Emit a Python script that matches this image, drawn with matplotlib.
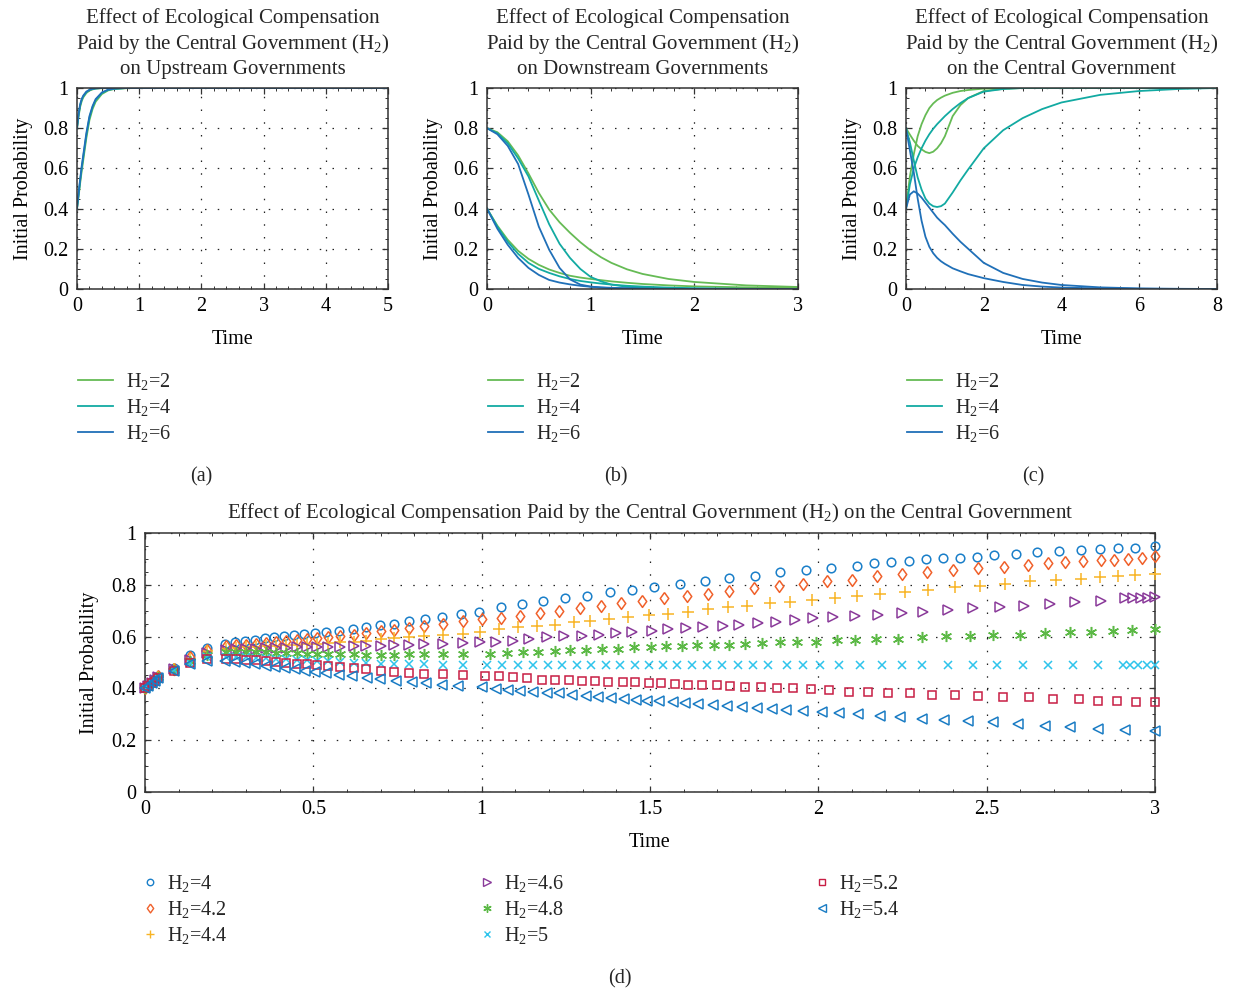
import matplotlib
matplotlib.use('Agg')
import matplotlib.pyplot as plt
from matplotlib.lines import Line2D
from matplotlib.ticker import MultipleLocator, AutoMinorLocator, FuncFormatter

plt.rcParams['font.family'] = ['Liberation Serif', 'DejaVu Serif']
plt.rcParams['mathtext.fontset'] = 'custom'
plt.rcParams['mathtext.rm'] = 'Liberation Serif'
plt.rcParams['mathtext.it'] = 'Liberation Serif:italic'
plt.rcParams['font.size'] = 14.5
plt.rcParams['text.color'] = '#262626'

# ---------------- panels (a)-(c): H2 = 2, 4, 6, two starting points each
H2_TOP = [2, 4, 6]
LINE_COLORS = ['#66bb55', '#12aaa2', '#2070b8']

T_A = [0, 0.025, 0.05, 0.075, 0.1, 0.15, 0.2, 0.25, 0.3, 0.4, 0.5, 0.6, 0.8, 1.0, 5.0]
A_LOW = {
    2: [0.4, 0.46, 0.525, 0.585, 0.64, 0.75, 0.84, 0.895, 0.932, 0.97, 0.988, 0.995, 0.999, 1, 1],
    4: [0.4, 0.468, 0.537, 0.6, 0.655, 0.765, 0.852, 0.905, 0.94, 0.975, 0.99, 0.996, 1, 1, 1],
    6: [0.4, 0.475, 0.545, 0.61, 0.665, 0.775, 0.86, 0.91, 0.945, 0.978, 0.992, 0.997, 1, 1, 1],
}
A_HIGH = {
    2: [0.8, 0.858, 0.905, 0.934, 0.953, 0.975, 0.987, 0.993, 0.997, 0.999, 1, 1, 1, 1, 1],
    4: [0.8, 0.865, 0.913, 0.941, 0.958, 0.979, 0.99, 0.995, 0.998, 1, 1, 1, 1, 1, 1],
    6: [0.8, 0.87, 0.918, 0.945, 0.962, 0.982, 0.991, 0.996, 0.998, 1, 1, 1, 1, 1, 1],
}

T_B = [0, 0.1, 0.2, 0.3, 0.4, 0.5, 0.6, 0.7, 0.8, 0.9, 1.0, 1.1, 1.2, 1.35, 1.5, 1.75, 2.0, 2.5, 3.0]
B_LOW = {
    2: [0.4, 0.315, 0.245, 0.19, 0.15, 0.12, 0.097, 0.08, 0.066, 0.057, 0.05, 0.044, 0.038, 0.031, 0.025, 0.018, 0.013, 0.008, 0.005],
    4: [0.4, 0.31, 0.235, 0.175, 0.13, 0.1, 0.08, 0.063, 0.05, 0.04, 0.033, 0.027, 0.022, 0.016, 0.012, 0.007, 0.004, 0.001, 0],
    6: [0.4, 0.3, 0.22, 0.155, 0.105, 0.07, 0.045, 0.032, 0.023, 0.016, 0.011, 0.008, 0.006, 0.004, 0.002, 0.001, 0, 0, 0],
}
B_HIGH = {
    2: [0.8, 0.78, 0.735, 0.665, 0.575, 0.478, 0.395, 0.332, 0.28, 0.233, 0.192, 0.158, 0.13, 0.098, 0.075, 0.05, 0.035, 0.018, 0.01],
    4: [0.8, 0.775, 0.725, 0.65, 0.56, 0.44, 0.322, 0.225, 0.155, 0.1, 0.06, 0.038, 0.022, 0.011, 0.006, 0.003, 0.001, 0, 0],
    6: [0.8, 0.77, 0.712, 0.622, 0.47, 0.31, 0.195, 0.105, 0.048, 0.022, 0.012, 0.007, 0.004, 0.002, 0.001, 0, 0, 0, 0],
}

T_C = [0, 0.1, 0.2, 0.3, 0.4, 0.5, 0.6, 0.7, 0.8, 0.9, 1.0, 1.2, 1.4, 1.6, 2.0, 2.5, 3.0, 3.5, 4.0, 5.0, 6.0, 7.0, 8.0]
C_LOW = {
    2: [0.4, 0.56, 0.67, 0.76, 0.82, 0.865, 0.9, 0.923, 0.94, 0.952, 0.962, 0.976, 0.985, 0.99, 0.997, 1, 1, 1, 1, 1, 1, 1, 1],
    4: [0.4, 0.52, 0.6, 0.655, 0.7, 0.738, 0.77, 0.797, 0.82, 0.84, 0.86, 0.895, 0.925, 0.95, 0.982, 0.995, 1, 1, 1, 1, 1, 1, 1],
    6: [0.4, 0.47, 0.486, 0.475, 0.455, 0.43, 0.405, 0.38, 0.355, 0.336, 0.318, 0.275, 0.235, 0.2, 0.13, 0.08, 0.05, 0.032, 0.02, 0.008, 0.003, 0.001, 0],
}
C_HIGH = {
    2: [0.8, 0.768, 0.738, 0.712, 0.695, 0.682, 0.676, 0.683, 0.70, 0.725, 0.76, 0.86, 0.915, 0.95, 0.985, 0.996, 1, 1, 1, 1, 1, 1, 1],
    4: [0.8, 0.73, 0.64, 0.555, 0.495, 0.45, 0.425, 0.412, 0.408, 0.412, 0.425, 0.48, 0.54, 0.595, 0.7, 0.79, 0.85, 0.895, 0.928, 0.966, 0.985, 0.995, 1],
    6: [0.8, 0.69, 0.58, 0.45, 0.34, 0.26, 0.21, 0.178, 0.155, 0.138, 0.125, 0.103, 0.088, 0.074, 0.054, 0.035, 0.02, 0.012, 0.007, 0.003, 0.001, 0, 0],
}

# ---------------- panel (d): H2 = 4 ... 5.4
T_EARLY = [0, 0.01, 0.02, 0.03, 0.04, 0.085, 0.135, 0.185]
T_MID = [0.24, 0.27, 0.30, 0.33, 0.36, 0.39, 0.42, 0.45, 0.48, 0.51, 0.545, 0.58, 0.62, 0.655, 0.70, 0.74, 0.785, 0.83, 0.885, 0.945]

T_40 = T_EARLY + [0.238, 0.266, 0.297, 0.327, 0.356, 0.384, 0.413, 0.443, 0.472, 0.505, 0.539, 0.577, 0.617,
                  0.656, 0.698, 0.74, 0.785, 0.832, 0.883, 0.939, 0.993, 1.057, 1.119, 1.181, 1.247, 1.312,
                  1.381, 1.448, 1.512, 1.589, 1.663, 1.735, 1.813, 1.886, 1.963, 2.037, 2.114, 2.165, 2.216,
                  2.268, 2.320, 2.369, 2.421, 2.470, 2.521, 2.587, 2.650, 2.714, 2.781, 2.836, 2.891, 2.940, 3.0]
Y_40 = [0.40, 0.412, 0.424, 0.436, 0.447, 0.478, 0.528, 0.556,
        0.573, 0.578, 0.582, 0.588, 0.595, 0.599, 0.601, 0.605, 0.610, 0.614, 0.618, 0.623, 0.630, 0.637,
        0.644, 0.650, 0.659, 0.668, 0.675, 0.687, 0.695,
        0.713, 0.725, 0.736, 0.748, 0.758, 0.771, 0.781, 0.790, 0.803, 0.813, 0.825, 0.835, 0.848, 0.858, 0.864,
        0.874, 0.883, 0.889, 0.893, 0.898, 0.903, 0.905, 0.909, 0.915, 0.920, 0.927, 0.932, 0.934, 0.937,
        0.942, 0.943, 0.948]

T_42 = T_EARLY + T_MID + [1.0, 1.057, 1.114, 1.173, 1.230, 1.292, 1.353, 1.413, 1.475, 1.543, 1.609, 1.671,
                          1.735, 1.809, 1.884, 1.953, 2.025, 2.101, 2.173, 2.250, 2.323, 2.401, 2.475, 2.552,
                          2.623, 2.681, 2.732, 2.787, 2.839, 2.878, 2.920, 2.960, 3.0]
Y_42 = [0.40, 0.412, 0.424, 0.435, 0.446, 0.476, 0.52, 0.55,
        0.562, 0.566, 0.569, 0.572, 0.575, 0.578, 0.582, 0.585, 0.589, 0.593, 0.597, 0.602, 0.608, 0.614,
        0.62, 0.627, 0.634, 0.641, 0.65, 0.659,
        0.668, 0.672, 0.681, 0.690, 0.697, 0.709, 0.720, 0.730, 0.739, 0.748, 0.756, 0.764, 0.775, 0.786,
        0.797, 0.804, 0.814, 0.820, 0.833, 0.840, 0.851, 0.856, 0.864, 0.870, 0.875, 0.883, 0.889, 0.892,
        0.894, 0.897, 0.899, 0.903, 0.910]

T_44 = T_EARLY + T_MID + [0.995, 1.052, 1.107, 1.163, 1.218, 1.275, 1.322, 1.379, 1.436, 1.498, 1.554, 1.614,
                          1.671, 1.731, 1.787, 1.855, 1.916, 1.980, 2.049, 2.114, 2.183, 2.257, 2.327, 2.406,
                          2.480, 2.554, 2.629, 2.706, 2.779, 2.836, 2.891, 2.940, 3.0]
Y_44 = [0.40, 0.411, 0.423, 0.434, 0.445, 0.475, 0.515, 0.545,
        0.553, 0.556, 0.558, 0.560, 0.562, 0.564, 0.566, 0.568, 0.570, 0.573, 0.575, 0.578, 0.581, 0.584,
        0.590, 0.596, 0.600, 0.603, 0.607, 0.611,
        0.617, 0.630, 0.636, 0.642, 0.646, 0.657, 0.661, 0.668, 0.674, 0.683, 0.687, 0.696, 0.706, 0.713,
        0.720, 0.729, 0.733, 0.740, 0.750, 0.758, 0.764, 0.773, 0.781, 0.790, 0.797, 0.804, 0.814, 0.818,
        0.823, 0.832, 0.835, 0.837, 0.842]

T_46 = T_EARLY + T_MID + [0.995, 1.042, 1.094, 1.141, 1.193, 1.245, 1.297, 1.349, 1.399, 1.448, 1.505, 1.554,
                          1.607, 1.658, 1.716, 1.765, 1.822, 1.874, 1.930, 1.985, 2.045, 2.109, 2.178, 2.248,
                          2.312, 2.386, 2.460, 2.540, 2.611, 2.688, 2.762, 2.839, 2.911, 2.936, 2.957, 2.980, 3.0]
Y_46 = [0.40, 0.411, 0.422, 0.433, 0.444, 0.473, 0.51, 0.535,
        0.548, 0.551, 0.553, 0.554, 0.555, 0.556, 0.557, 0.558, 0.559, 0.559, 0.560, 0.561, 0.562, 0.563,
        0.564, 0.566, 0.568, 0.570, 0.572, 0.576,
        0.580, 0.581, 0.584, 0.590, 0.597, 0.601, 0.603, 0.607, 0.612, 0.617, 0.623, 0.629, 0.635, 0.638,
        0.642, 0.646, 0.652, 0.658, 0.665, 0.670, 0.674, 0.681, 0.685, 0.691, 0.696, 0.704, 0.709, 0.716,
        0.720, 0.726, 0.732, 0.739, 0.748, 0.748, 0.748, 0.749, 0.752]

T_48 = T_EARLY + T_MID + [1.025, 1.074, 1.122, 1.168, 1.218, 1.262, 1.310, 1.356, 1.404, 1.452, 1.502, 1.547,
                          1.594, 1.641, 1.691, 1.735, 1.782, 1.834, 1.886, 1.937, 1.994, 2.054, 2.109, 2.171,
                          2.238, 2.307, 2.379, 2.450, 2.520, 2.599, 2.673, 2.749, 2.810, 2.874, 2.933, 3.0]
Y_48 = [0.40, 0.411, 0.422, 0.432, 0.443, 0.472, 0.505, 0.53,
        0.540, 0.541, 0.541, 0.540, 0.539, 0.537, 0.536, 0.535, 0.534, 0.533, 0.532, 0.531, 0.531, 0.530,
        0.530, 0.530, 0.531, 0.531, 0.532, 0.532,
        0.533, 0.537, 0.539, 0.541, 0.545, 0.547, 0.548, 0.551, 0.553, 0.558, 0.560, 0.563, 0.565, 0.567,
        0.568, 0.569, 0.570, 0.574, 0.578, 0.580, 0.581, 0.585, 0.586, 0.590, 0.591, 0.597, 0.601, 0.603,
        0.606, 0.607, 0.612, 0.616, 0.618, 0.623, 0.624, 0.629]

T_50 = T_EARLY + T_MID + [1.015, 1.061, 1.109, 1.153, 1.196, 1.239, 1.282, 1.325, 1.368, 1.411, 1.454, 1.497,
                          1.539, 1.581, 1.626, 1.668, 1.715, 1.760, 1.806, 1.851, 1.906, 1.955, 2.005, 2.060,
                          2.124, 2.188, 2.248, 2.307, 2.384, 2.458, 2.532, 2.609, 2.681, 2.755, 2.831, 2.904,
                          2.927, 2.950, 2.975, 3.0]
Y_50 = [0.40, 0.41, 0.421, 0.431, 0.442, 0.47, 0.50, 0.52,
        0.522, 0.522, 0.521, 0.519, 0.517, 0.515, 0.513, 0.511, 0.509, 0.507, 0.504, 0.502, 0.500, 0.498,
        0.496, 0.495, 0.494, 0.493, 0.492, 0.492,
        0.492, 0.492, 0.492, 0.492, 0.492, 0.492, 0.492, 0.492, 0.492, 0.492, 0.492, 0.492, 0.492, 0.492,
        0.492, 0.492, 0.492, 0.492, 0.492, 0.492, 0.492, 0.492, 0.492, 0.492, 0.492, 0.492, 0.492, 0.492,
        0.492, 0.492, 0.492, 0.492, 0.492, 0.492, 0.492, 0.492, 0.492, 0.492, 0.492, 0.492]

T_52 = T_EARLY + T_MID + [1.010, 1.052, 1.094, 1.134, 1.178, 1.218, 1.260, 1.297, 1.337, 1.374, 1.419, 1.455,
                          1.498, 1.534, 1.574, 1.614, 1.653, 1.698, 1.739, 1.782, 1.831, 1.876, 1.925, 1.977,
                          2.031, 2.090, 2.149, 2.206, 2.273, 2.338, 2.406, 2.475, 2.548, 2.625, 2.698, 2.775,
                          2.832, 2.886, 2.944, 3.0]
Y_52 = [0.40, 0.41, 0.42, 0.43, 0.44, 0.468, 0.497, 0.512,
        0.514, 0.513, 0.511, 0.508, 0.505, 0.502, 0.499, 0.496, 0.493, 0.489, 0.486, 0.482, 0.478, 0.474,
        0.466, 0.463, 0.460, 0.457, 0.454, 0.451,
        0.449, 0.447, 0.443, 0.439, 0.434, 0.433, 0.432, 0.428, 0.427, 0.426, 0.424, 0.423, 0.420, 0.419,
        0.417, 0.414, 0.413, 0.412, 0.408, 0.407, 0.405, 0.401, 0.400, 0.396, 0.394, 0.388, 0.387, 0.383,
        0.382, 0.376, 0.375, 0.371, 0.366, 0.365, 0.359, 0.358, 0.353, 0.352, 0.348, 0.347]

T_54 = T_EARLY + [0.238, 0.267, 0.297, 0.327, 0.359, 0.386, 0.416, 0.446, 0.475, 0.505, 0.539, 0.577, 0.614,
                  0.658, 0.698, 0.747, 0.792, 0.836, 0.881, 0.931, 1.0, 1.042, 1.079, 1.114, 1.151, 1.193,
                  1.230, 1.267, 1.310, 1.346, 1.383, 1.423, 1.458, 1.490, 1.526, 1.567, 1.604, 1.643, 1.686,
                  1.730, 1.772, 1.817, 1.861, 1.904, 1.955, 2.010, 2.060, 2.119, 2.183, 2.243, 2.307, 2.373,
                  2.446, 2.520, 2.594, 2.673, 2.747, 2.831, 2.911, 3.0]
Y_54 = [0.40, 0.41, 0.42, 0.43, 0.44, 0.466, 0.495, 0.505,
        0.507, 0.503, 0.498, 0.493, 0.488, 0.483, 0.478, 0.473, 0.468, 0.463, 0.458, 0.453, 0.447, 0.441,
        0.436, 0.430, 0.425, 0.420, 0.415, 0.410,
        0.404, 0.398, 0.393, 0.390, 0.386, 0.384, 0.381, 0.375, 0.371, 0.366, 0.364, 0.359, 0.356, 0.353,
        0.350, 0.347, 0.343, 0.340, 0.335, 0.332, 0.329, 0.326, 0.320, 0.315, 0.311, 0.309, 0.305, 0.300,
        0.293, 0.289, 0.283, 0.279, 0.274, 0.270, 0.262, 0.256, 0.251, 0.245, 0.239, 0.234]

# MATLAB-style diamond (wider than matplotlib's thin 'd')
DIAMOND = [(0, 1), (0.72, 0), (0, -1), (-0.72, 0), (0, 1)]

D_SERIES = [
    (T_40, Y_40, '4', 'o', '#1a7fc9', 6.2),
    (T_42, Y_42, '4.2', DIAMOND, '#f0602a', 8.5),
    (T_44, Y_44, '4.4', '+', '#f8b425', 8.0),
    (T_46, Y_46, '4.6', '>', '#8a3a9a', 7.0),
    (T_48, Y_48, '4.8', (6, 2, 0), '#5cb946', 8.0),
    (T_50, Y_50, '5', 'x', '#2ec4ec', 6.0),
    (T_52, Y_52, '5.2', 's', '#c81e44', 5.5),
    (T_54, Y_54, '5.4', '<', '#1a7cc4', 7.0),
]

W, H = 1238, 993
fig = plt.figure(figsize=(W / 100, H / 100), dpi=100)


def fx(px):
    return px / W


def fy(py):
    return 1 - py / H


def style_axes(ax, xmax, xstep, ylab_x, xlab_y):
    ax.set_xlim(0, xmax)
    ax.set_ylim(0, 1)
    ax.xaxis.set_major_locator(MultipleLocator(xstep))
    ax.yaxis.set_major_locator(MultipleLocator(0.2))
    ax.xaxis.set_minor_locator(AutoMinorLocator())
    ax.yaxis.set_minor_locator(AutoMinorLocator())
    fmt = FuncFormatter(lambda v, p: f'{v:g}')
    ax.xaxis.set_major_formatter(fmt)
    ax.yaxis.set_major_formatter(fmt)
    ax.tick_params(which='both', direction='in', top=True, right=True, color='#333333')
    ax.tick_params(which='major', length=4, width=0.9, pad=6, labelsize=14.5)
    ax.tick_params(which='minor', length=2, width=0.7)
    for s in ax.spines.values():
        s.set_color('#333333')
        s.set_linewidth(1.1)
    ax.grid(True, which='major', color='#222222', linestyle=(0, (1.2, 9)), linewidth=0.9)
    ax.set_axisbelow(True)
    ax.set_ylabel('Initial Probability')
    ax.set_xlabel('Time')
    ax.yaxis.set_label_coords(ylab_x, 0.5)
    ax.xaxis.set_label_coords(0.5, xlab_y)


TOP_TITLES = [
    'Effect of Ecological Compensation\nPaid by the Central Government (H$_2$)\non Upstream Governments',
    'Effect of Ecological Compensation\nPaid by the Central Government (H$_2$)\non Downstream Governments',
    'Effect of Ecological Compensation\nPaid by the Central Government (H$_2$)\non the Central Government',
]
TOP = [
    (77, T_A, A_LOW, A_HIGH, 5, 1, '(a)', 201),
    (487, T_B, B_LOW, B_HIGH, 3, 1, '(b)', 616),
    (906, T_C, C_LOW, C_HIGH, 8, 2, '(c)', 1033),
]

for (left, t, low, high, xmax, xstep, tag, tag_x), title in zip(TOP, TOP_TITLES):
    ax = fig.add_axes([fx(left), fy(289), 311 / W, 201 / H])
    for h, col in zip(H2_TOP, LINE_COLORS):
        ax.plot(t, low[h], color=col, lw=1.3)
        ax.plot(t, high[h], color=col, lw=1.3)
    style_axes(ax, xmax, xstep, -0.142, -0.205)
    ax.set_title(title, fontsize=15, pad=10, linespacing=1.26)
    handles = [Line2D([], [], color=c, lw=1.3) for c in LINE_COLORS]
    labels = [f'H$_2$={h}' for h in H2_TOP]
    fig.legend(handles, labels, loc='upper left', bbox_to_anchor=(fx(left + 1), fy(371)),
               frameon=False, borderpad=0, borderaxespad=0, handlelength=1.75,
               handletextpad=0.65, labelspacing=0.26, fontsize=14.5)
    fig.text(fx(tag_x), fy(477), tag, ha='center', va='center', fontsize=14.5)

# ---------------- panel (d)
axd = fig.add_axes([fx(145), fy(792), 1010 / W, 259 / H])
for t, y, lab, mk, col, ms in D_SERIES:
    axd.plot(t, y, linestyle='none', marker=mk, markersize=ms, markerfacecolor='none',
             markeredgecolor=col, markeredgewidth=1.1, clip_on=False, zorder=3)
style_axes(axd, 3, 0.5, -0.046, -0.158)
axd.set_title('Effect of Ecological Compensation Paid by the Central Government (H$_2$) on the Central Government',
              fontsize=15, pad=11)

d_handles = [Line2D([], [], linestyle='none', marker=mk, markersize=ms * 0.75, markerfacecolor='none',
                    markeredgecolor=col, markeredgewidth=1.0) for t, y, lab, mk, col, ms in D_SERIES]
d_labels = [f'H$_2$={lab}' for t, y, lab, mk, col, ms in D_SERIES]
for idx, left in [((0, 1, 2), 141), ((3, 4, 5), 478), ((6, 7), 813)]:
    fig.legend([d_handles[i] for i in idx], [d_labels[i] for i in idx], loc='upper left',
               bbox_to_anchor=(fx(left), fy(873)), frameon=False, borderpad=0, borderaxespad=0,
               handlelength=0.9, handletextpad=0.4, labelspacing=0.26, fontsize=14.5)
fig.text(fx(620), fy(979), '(d)', ha='center', va='center', fontsize=14.5)

fig.savefig('out.png', dpi=100)
